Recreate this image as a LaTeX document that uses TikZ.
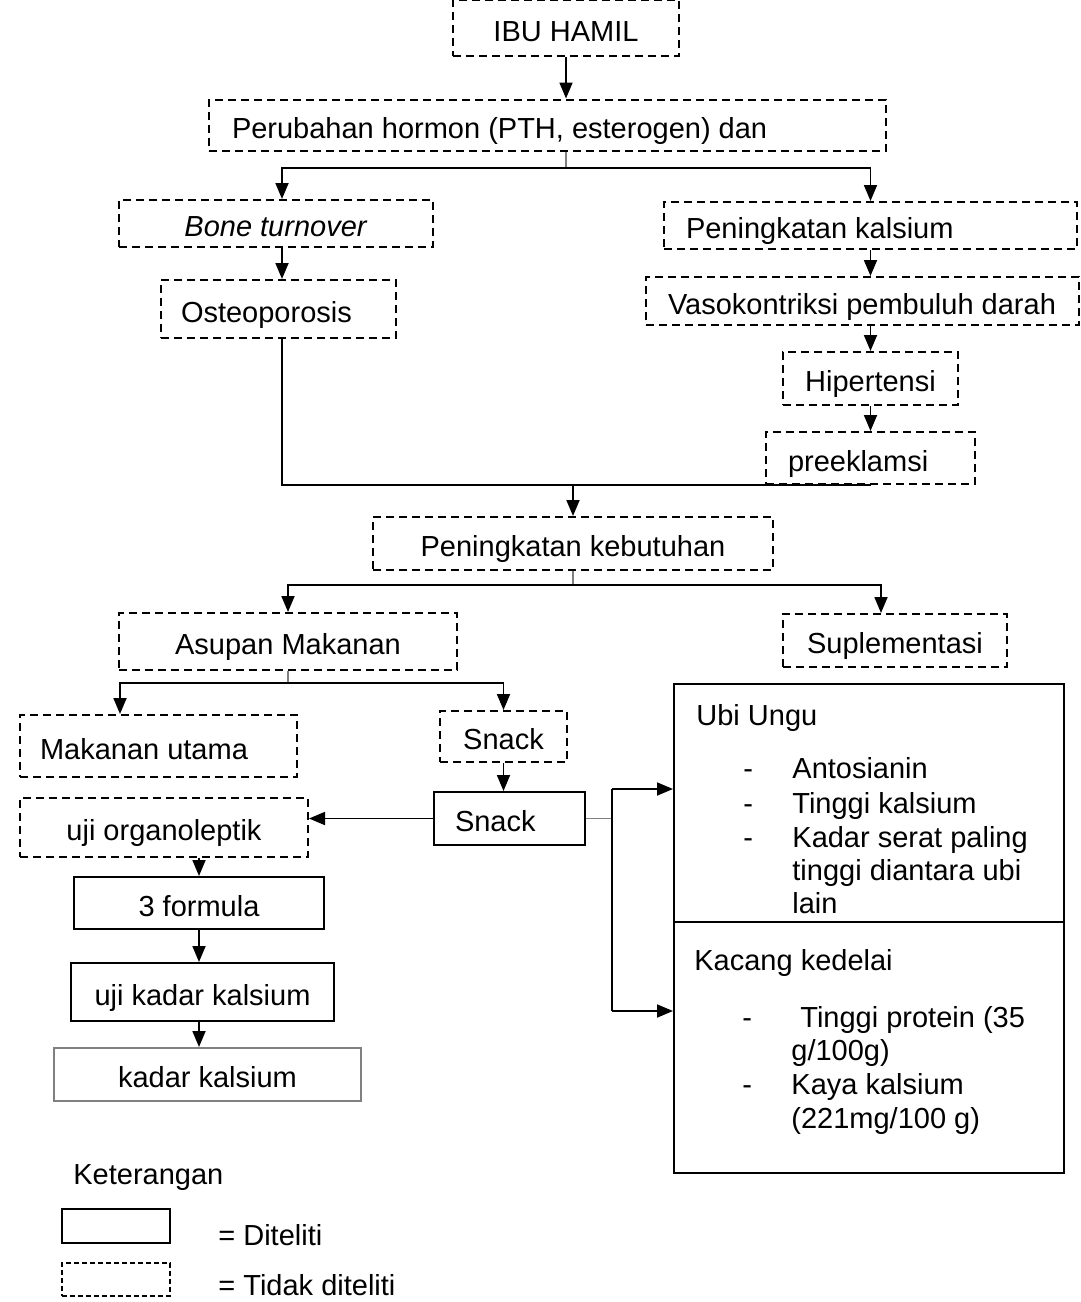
\documentclass[tikz,border=0pt]{standalone}
\usepackage{fontspec}
\setmainfont{Liberation Sans}
\usetikzlibrary{arrows.meta}

\tikzstyle{tbox} = [draw, line width=1pt, inner sep=0pt, text height=13pt, text depth=0pt]
\tikzstyle{dbox} = [tbox, dash pattern=on 4pt off 2.5pt]
\tikzstyle{conn} = [draw, line width=0.9pt]
\tikzstyle{stub} = [draw, gray, line width=0.6pt]
\tikzstyle{arrow} = [conn, -{Triangle[length=8pt,width=6.5pt]}]
\tikzstyle{item} = [anchor=west, inner sep=0pt, text height=10.4pt, text depth=0pt]
\tikzset{wh/.style 2 args={minimum width=#1*0.5pt, minimum height=#2*0.5pt}}
\newcommand{\ltxt}[2]{\makebox[#1][l]{#2}}

\begin{document}
\begin{tikzpicture}[x=0.5pt, y=-0.5pt, font=\fontsize{14.5}{17}\selectfont]
    \useasboundingbox[fill=white] (0,0) rectangle (1081,1302);
    % First the boxes of the chart
    \node[dbox, wh={226}{56}] (ibu) at (566,28) {IBU HAMIL};
    \node[dbox, wh={677}{51}, inner xsep=11.5pt] (hormon) at (547.5,125) {\ltxt{315.5pt}{Perubahan hormon (PTH, esterogen) dan}};
    \node[dbox, wh={314}{47}] (bone) at (276,223.5) {\textit{Bone turnover}};
    \node[dbox, wh={413}{47}, inner xsep=11pt] (kalsium) at (870.5,225.5) {\ltxt{184.5pt}{Peningkatan kalsium}};
    \node[dbox, wh={235}{58}, inner xsep=10pt] (osteo) at (278.5,309) {\ltxt{97.5pt}{Osteoporosis}};
    \node[dbox, wh={433}{48}, inner xsep=11pt] (vaso) at (862.5,301) {\ltxt{194.5pt}{Vasokontriksi pembuluh darah}};
    \node[dbox, wh={175}{53}] (hiper) at (870.5,378.5) {Hipertensi};
    \node[dbox, wh={209}{52}, inner xsep=11pt] (pre) at (870.5,458) {\ltxt{82.5pt}{preeklamsi}};
    \node[dbox, wh={400}{53}] (kebutuhan) at (573,543.5) {Peningkatan kebutuhan};
    \node[dbox, wh={338}{57}] (asupan) at (288,641.5) {Asupan Makanan};
    \node[dbox, wh={224}{53}] (suplemen) at (895,640.5) {Suplementasi};
    \node[dbox, wh={277}{62}, inner xsep=10pt] (makanan) at (158.5,746) {\ltxt{118.5pt}{Makanan utama}};
    \node[dbox, wh={127}{51}] (snackd) at (503.5,736.5) {Snack};
    \node[tbox, wh={151}{53}, inner xsep=10.5pt] (snack) at (509.5,818.5) {\ltxt{54.5pt}{Snack}};
    \node[dbox, wh={288}{59}] (organo) at (164,827.5) {uji organoleptik};
    \node[tbox, wh={250}{52}] (formula) at (199,903) {3 formula};
    \node[tbox, wh={263}{58}] (ujikadar) at (202.5,992) {uji kadar kalsium};
    \node[tbox, draw=gray, wh={307}{53}] (kadar) at (207.5,1074.5) {kadar kalsium};
    \node[tbox, wh={390}{238}] (ubi) at (869,803) {};
    \node[tbox, wh={390}{251}] (kacang) at (869,1047.5) {};

    % Texts inside the two big boxes
    \node[item] (ubiname) at (696,715) {Ubi Ungu};
    \foreach \x/\y/\txt/\name in {743/768/-/ubidash1, 743/803/-/ubidash2, 743/837/-/ubidash3,
        792/768/Antosianin/ubitxt1, 792/803/Tinggi kalsium/ubitxt2, 792/837/Kadar serat paling/ubitxt3,
        792/870/tinggi diantara ubi/ubitxt4, 792/903/lain/ubitxt5}
        \node[item] (\name) at (\x,\y) {\txt};
    \node[item] (kacangname) at (694,960) {Kacang kedelai};
    \foreach \x/\y/\txt/\name in {742/1017/-/kacdash1, 742/1084/-/kacdash2,
        800/1017/Tinggi protein (35/kactxt1, 791/1050/g\slash 100g)/kactxt2,
        791/1084/Kaya kalsium/kactxt3, 791/1118/(221mg\slash 100 g)/kactxt4}
        \node[item] (\name) at (\x,\y) {\txt};

    % Legend
    \node[item] (ket) at (73,1174) {Keterangan};
    \node[tbox, line width=0.6pt, wh={108}{34}] (legsolid) at (116,1226) {};
    \node[tbox, line width=0.6pt, dash pattern=on 2.5pt off 1.5pt, wh={108}{33}] (legdash) at (116,1279.5) {};
    \node[item] (legsolidtxt) at (218,1235) {= Diteliti};
    \node[item] (legdashtxt) at (218,1285) {= Tidak diteliti};

    % Connect the boxes
    \coordinate (split1) at (566,168);
    \coordinate (split2) at (573,585);
    \coordinate (split3) at (288,683);
    \coordinate (toubi) at (612,789);
    \coordinate (tokacang) at (612,1011);
    \draw[arrow] (ibu.south) -- (ibu.south |- hormon.north);
    \draw[stub] (ibu.south |- hormon.south) -- (split1);
    \draw[arrow] (split1) -| ([xshift=3pt]bone.north);
    \draw[arrow] (split1) -| (kalsium.north);
    \draw[arrow] ([xshift=3pt]bone.south) -- ([xshift=3pt]bone.south |- osteo.north);
    \draw[arrow] (kalsium.south) -- (kalsium.south |- vaso.north);
    \draw[arrow] (kalsium.south |- vaso.south) -- (hiper.north);
    \draw[arrow] (hiper) -- (pre);
    \draw[conn] ([xshift=3pt]bone.south |- osteo.south) |- (pre.south);
    \draw[arrow] (kebutuhan.north |- pre.south) -- (kebutuhan.north);
    \draw[stub] (kebutuhan) -- (split2);
    \draw[arrow] (split2) -| (asupan.north);
    \draw[arrow] (split2) -| ([xshift=-7pt]suplemen.north);
    \draw[stub] (asupan) -- (split3);
    \draw[arrow] (split3) -| ([xshift=-19.25pt]makanan.north);
    \draw[arrow] (split3) -| (snackd.north);
    \draw[arrow] (snackd.south) -- (snackd.south |- snack.north);
    \draw[arrow] (snack.west) -- (snack.west -| organo.east);
    \draw[arrow] (organo.south -| formula.north) -- (formula.north);
    \draw[arrow] (formula.south) -- (formula.south |- ujikadar.north);
    \draw[arrow] (formula.south |- ujikadar.south) -- (formula.south |- kadar.north);
    \draw[stub] (snack.east) -- (snack.east -| toubi);
    \draw[conn] (toubi) -- (tokacang);
    \draw[arrow] (toubi) -- (toubi -| ubi.west);
    \draw[arrow] (tokacang) -- (tokacang -| kacang.west);
\end{tikzpicture}
\end{document}
